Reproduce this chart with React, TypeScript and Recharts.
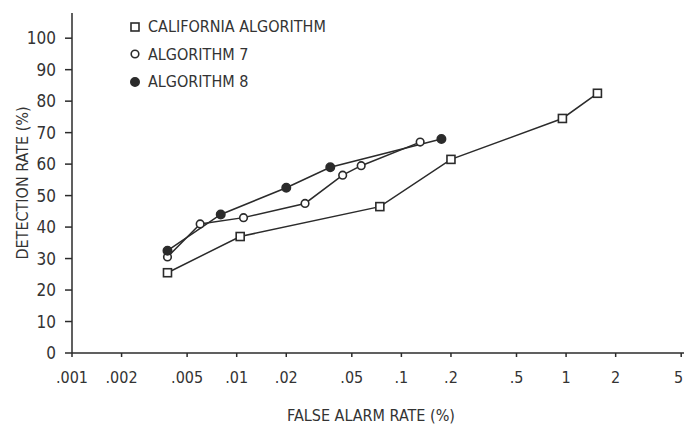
import React from "react";
import { LineChart, Line, XAxis, YAxis, Label } from "recharts";

const FONT =
  '"Liberation Sans Narrow", "DejaVu Sans Condensed", "DejaVu Sans Mono", monospace';
const INK = "#2b2b2b";
const TEXT = "#333";

// false alarm rate (%) on a log axis, detection rate (%) on a linear one
const xTicks = [0.001, 0.002, 0.005, 0.01, 0.02, 0.05, 0.1, 0.2, 0.5, 1, 2, 5];
const yTicks = [0, 10, 20, 30, 40, 50, 60, 70, 80, 90, 100];

const californiaX = [0.0038, 0.0105, 0.074, 0.2, 0.95, 1.55];
const californiaY = [25.5, 37, 46.5, 61.5, 74.5, 82.5];

const alg7X = [0.0038, 0.006, 0.011, 0.026, 0.044, 0.057, 0.13];
const alg7Y = [30.5, 41, 43, 47.5, 56.5, 59.5, 67];

const alg8X = [0.0038, 0.008, 0.02, 0.037, 0.175];
const alg8Y = [32.5, 44, 52.5, 59, 68];

const toPoints = (xs: number[], ys: number[]) =>
  xs.map((x, i) => ({ x, y: ys[i] }));

type Shape = "square" | "open" | "filled";

function Marker({ cx, cy, shape }: { cx: number; cy: number; shape: Shape }) {
  if (cx == null || cy == null) return null;
  if (shape === "square") {
    return (
      <rect
        x={cx - 4}
        y={cy - 4}
        width={8}
        height={8}
        fill="#fff"
        stroke={INK}
        strokeWidth={1.6}
      />
    );
  }
  return (
    <circle
      cx={cx}
      cy={cy}
      r={shape === "filled" ? 4.2 : 3.8}
      fill={shape === "filled" ? INK : "#fff"}
      stroke={INK}
      strokeWidth={1.6}
    />
  );
}

const series: { name: string; shape: Shape; data: { x: number; y: number }[] }[] = [
  { name: "CALIFORNIA ALGORITHM", shape: "square", data: toPoints(californiaX, californiaY) },
  { name: "ALGORITHM 7", shape: "open", data: toPoints(alg7X, alg7Y) },
  { name: "ALGORITHM 8", shape: "filled", data: toPoints(alg8X, alg8Y) },
];

const fmtX = (v: number) => (v < 1 ? String(v).slice(1) : String(v));

// last label sits on the right edge, so anchor it at its end
function XTick(p: any) {
  const v = p.payload.value;
  const last = v === xTicks[xTicks.length - 1];
  return (
    <text
      x={last ? p.x + 2 : p.x}
      y={p.y}
      dy="0.71em"
      textAnchor={last ? "end" : "middle"}
      fontFamily={FONT}
      fontSize={16}
      fill={TEXT}
    >
      {fmtX(v)}
    </text>
  );
}

function LegendBox() {
  return (
    <div
      style={{
        position: "absolute",
        left: 129,
        top: 13,
        fontFamily: FONT,
        fontSize: 16,
        color: TEXT,
      }}
    >
      {series.map((s) => (
        <div
          key={s.name}
          style={{ display: "flex", alignItems: "center", height: 27.5 }}
        >
          <svg width={12} height={12} style={{ marginRight: 7 }}>
            <Marker cx={6} cy={6} shape={s.shape} />
          </svg>
          <span>{s.name}</span>
        </div>
      ))}
    </div>
  );
}

export default function App() {
  return (
    <div
      style={{
        position: "absolute",
        left: 0,
        top: 0,
        width: 684,
        height: 428,
        background: "#fff",
      }}
    >
      <LineChart
        width={684}
        height={428}
        margin={{ top: 13, right: 0, bottom: 0, left: 0 }}
      >
        <XAxis
          type="number"
          dataKey="x"
          scale="log"
          domain={[0.001, 5.2]}
          allowDataOverflow
          ticks={xTicks}
          interval={0}
          height={75}
          stroke={INK}
          strokeWidth={1.5}
          tickSize={4}
          tickMargin={15}
          tick={XTick}
        >
          <Label
            content={({ viewBox }: any) => (
              <text
                x={viewBox.x + viewBox.width / 2 - 7}
                y={viewBox.y + viewBox.height - 7}
                textAnchor="middle"
                fontFamily={FONT}
                fontSize={16}
                fill={TEXT}
              >
                FALSE ALARM RATE (%)
              </text>
            )}
          />
        </XAxis>
        <YAxis
          type="number"
          dataKey="y"
          domain={[0, 108]}
          ticks={yTicks}
          interval={0}
          width={72}
          stroke={INK}
          strokeWidth={1.5}
          tickSize={7}
          tickMargin={9}
          tick={{ fontFamily: FONT, fontSize: 17, fill: TEXT }}
        >
          <Label
            content={({ viewBox }: any) => {
              const cx = viewBox.x + 22;
              const cy = viewBox.y + viewBox.height / 2;
              return (
                <text
                  x={cx}
                  y={cy}
                  transform={`rotate(-90 ${cx} ${cy})`}
                  textAnchor="middle"
                  dominantBaseline="central"
                  fontFamily={FONT}
                  fontSize={16}
                  fill={TEXT}
                >
                  DETECTION RATE (%)
                </text>
              );
            }}
          />
        </YAxis>
        {series.map((s) => (
          <Line
            key={s.name}
            name={s.name}
            data={s.data}
            dataKey="y"
            type="linear"
            stroke={INK}
            strokeWidth={1.5}
            isAnimationActive={false}
            dot={(p: any) => (
              <Marker key={`${s.name}-${p.index}`} cx={p.cx} cy={p.cy} shape={s.shape} />
            )}
            activeDot={false}
          />
        ))}
      </LineChart>
      <LegendBox />
    </div>
  );
}
